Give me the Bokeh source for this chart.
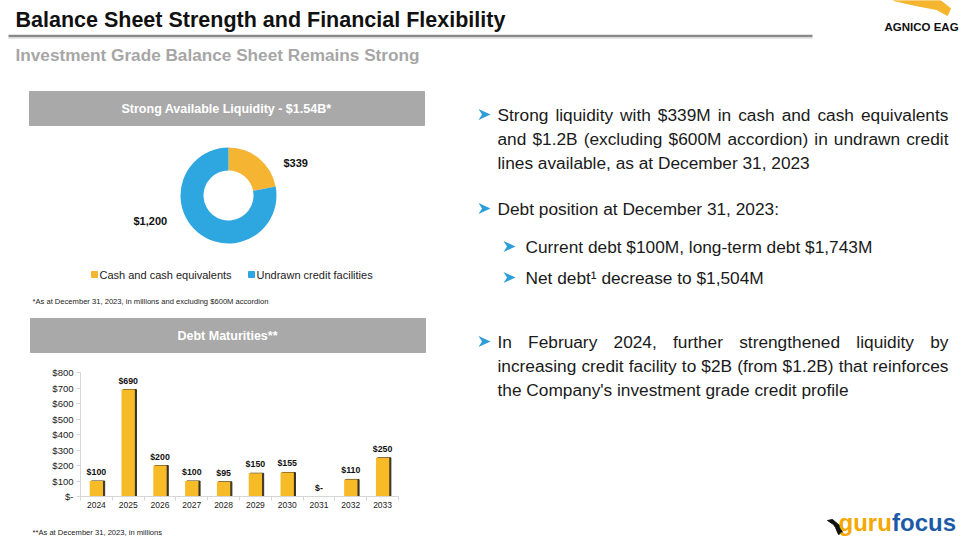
import numpy as np
from bokeh.plotting import figure
from bokeh.models import Range1d, FixedTicker, ColumnDataSource, LinearAxis
from bokeh.layouts import column, row
from bokeh.transform import dodge
from bokeh.core.properties import value
from bokeh.embed import file_html
from bokeh.resources import INLINE

# ---------------- data ----------------
liquidity_labels = ["Cash and cash equivalents", "Undrawn credit facilities"]
liquidity_values = [339, 1200]
liquidity_value_text = ["$339", "$1,200"]
liquidity_colors = ["#F5B431", "#2EA6E0"]

years = ["2024", "2025", "2026", "2027", "2028", "2029", "2030", "2031", "2032", "2033"]
maturities = [100, 690, 200, 100, 95, 150, 155, 0, 110, 250]
y_ticks = [0, 100, 200, 300, 400, 500, 600, 700, 800]
y_tick_labels = ["$-", "$100", "$200", "$300", "$400", "$500", "$600", "$700", "$800"]

FONT = "Liberation Sans"
TXT = "#1a1a1a"

# Arial / Liberation Sans advance widths (per 1000 em) for justification
AW = {' ': 278, 'a': 556, 'b': 556, 'c': 500, 'd': 556, 'e': 556, 'f': 278, 'g': 556, 'h': 556,
      'i': 222, 'j': 222, 'k': 500, 'l': 222, 'm': 833, 'n': 556, 'o': 556, 'p': 556, 'q': 556,
      'r': 333, 's': 500, 't': 278, 'u': 556, 'v': 500, 'w': 722, 'x': 500, 'y': 500, 'z': 500,
      '$': 556, ',': 278, '.': 278, '(': 333, ')': 333, '-': 333, ':': 278, "'": 191,
      'A': 667, 'B': 667, 'C': 722, 'D': 722, 'E': 667, 'F': 611, 'G': 778, 'I': 278, 'M': 833,
      'N': 722, 'S': 667, 'T': 611, 'L': 556, 'R': 722, 'P': 667}


def noalign(p):
    if hasattr(p, "frame_align"):
        p.frame_align = False
    return p


def canvas(w, h):
    p = figure(width=w, height=h, x_range=Range1d(0, w), y_range=Range1d(0, h),
               output_backend="svg", toolbar_location=None, min_border=0,
               x_axis_location=None, y_axis_location=None)
    p.grid.visible = False
    p.outline_line_color = None
    p.background_fill_color = "white"
    p.border_fill_color = "white"
    return noalign(p)


def txt(p, h, x, y, s, size, color=TXT, bold=False, align="left", font=FONT, baseline="middle"):
    p.text(x=[x], y=[h - y], text=[s], text_font=value(font), text_font_size=f"{size}px",
           text_font_style="bold" if bold else "normal", text_color=color,
           text_align=align, text_baseline=baseline)


def justify(p, h, x0, x1, y, line, size, color=TXT):
    words = line.split(" ")
    ws = [sum(AW.get(c, 556) for c in wd) * size / 1000.0 for wd in words]
    gap = (x1 - x0 - sum(ws)) / (len(words) - 1)
    xs, x = [], x0
    for wdt in ws:
        xs.append(x)
        x += wdt + gap
    p.text(x=xs, y=[h - y] * len(words), text=words, text_font=value(FONT),
           text_font_size=f"{size}px", text_color=color, text_align="left", text_baseline="middle")


# ---------------- header (ref y 0..80) ----------------
HW, HH = 960, 80
head = canvas(HW, HH)
txt(head, HH, 15, 19, "Balance Sheet Strength and Financial Flexibility", 21.5, "#111111", True)
head.line(x=[8, 812], y=[HH - 35.5, HH - 35.5], line_color="#8a8a8a", line_width=2.5)
head.line(x=[8, 812], y=[HH - 37.5, HH - 37.5], line_color="#cfcfcf", line_width=1)
txt(head, HH, 15, 54, "Investment Grade Balance Sheet Remains Strong", 17.2, "#a6a6a6", True)
head.patch(x=[893, 940, 950, 947, 936, 915], y=[HH - 0, HH - 0, HH - 8, HH - 15, HH - 9, HH - 5],
           color="#F5B52E")
txt(head, HH, 884, 26, "AGNICO EAG", 11.5, "#111111", True)

# ---------------- liquidity panel (ref y 80..310) ----------------
LW, LH = 440, 230
liq = canvas(LW, LH)
liq.quad(left=[29], right=[424], top=[LH - 11], bottom=[LH - 45], color="#a9a9a9")
txt(liq, LH, 226, 28, "Strong Available Liquidity - $1.54B*", 12.5, "white", True, align="center")

tot = float(sum(liquidity_values))
frac = np.array(liquidity_values) / tot
cum = np.cumsum(frac)
prev = np.concatenate([[0.0], cum[:-1]])
dsrc = ColumnDataSource(dict(
    start=np.pi / 2 - 2 * np.pi * cum,
    end=np.pi / 2 - 2 * np.pi * prev,
    color=liquidity_colors,
))
liq.annular_wedge(x=228, y=LH - 115, inner_radius=25, outer_radius=48, start_angle="start",
                  end_angle="end", color="color", line_color=None, source=dsrc)
txt(liq, LH, 283, 82, liquidity_value_text[0], 11, "#111111", True)
txt(liq, LH, 133, 140, liquidity_value_text[1], 11, "#111111", True)

leg_x = [91, 248]
for i in range(2):
    liq.quad(left=[leg_x[i]], right=[leg_x[i] + 6], top=[LH - 191], bottom=[LH - 197],
             color=liquidity_colors[i])
    txt(liq, LH, leg_x[i] + 8, 194, liquidity_labels[i], 11, "#222222")
txt(liq, LH, 32, 221, "*As at December 31, 2023, in millions and  excluding $600M accordion", 7.6, "#222222")

# ---------------- debt header (ref y 310..362) ----------------
DW, DH = 440, 52
dh = canvas(DW, DH)
dh.quad(left=[30], right=[425], top=[DH - 8], bottom=[DH - 42], color="#a9a9a9")
txt(dh, DH, 227, 25, "Debt Maturities**", 12.5, "white", True, align="center")

# ---------------- bar chart (ref y 362..520) ----------------
n = len(years)
centers = [i + 0.5 for i in range(n)]
bsrc = ColumnDataSource(dict(
    x=centers, year=years, value=maturities,
    label=[f"${v}" if v else "$-" for v in maturities],
))
bars = figure(width=440, height=158, x_range=Range1d(0, n), y_range=Range1d(0, 800),
              output_backend="svg", toolbar_location=None, x_axis_location=None,
              min_border_left=80, min_border_right=42, min_border_top=10, min_border_bottom=24)
noalign(bars)
bars.grid.visible = False
bars.outline_line_color = None
bars.vbar(x=dodge("x", 0.05), top="value", width=0.42, color="#3a3322", source=bsrc)
bars.vbar(x="x", top="value", width=0.42, fill_color="#F6BB26", line_color=None, source=bsrc)
bars.text(x="x", y="value", text="label", y_offset=-4, text_align="center",
          text_baseline="bottom", text_font=value(FONT), text_font_size="8.8px",
          text_font_style="bold", text_color="#111111", source=bsrc)

# x axis: year labels at centres, Excel-style ticks (minor) at category boundaries
x_axis = LinearAxis(ticker=FixedTicker(ticks=centers, minor_ticks=list(range(n + 1))),
                    major_label_overrides=dict(zip(centers, years)),
                    axis_line_color="#d6d6d6", major_tick_line_color=None,
                    major_tick_in=0, major_tick_out=4,
                    minor_tick_line_color="#d6d6d6", minor_tick_in=0, minor_tick_out=4,
                    major_label_standoff=1,
                    major_label_text_font=FONT, major_label_text_font_size="8.5px",
                    major_label_text_color="#222222")
bars.add_layout(x_axis, "below")

bars.yaxis.ticker = FixedTicker(ticks=y_ticks)
bars.yaxis.major_label_overrides = dict(zip(y_ticks, y_tick_labels))
bars.yaxis.axis_line_color = "#d6d6d6"
bars.yaxis.major_tick_line_color = "#d6d6d6"
bars.yaxis.minor_tick_line_color = None
bars.yaxis.major_label_text_font = FONT
bars.yaxis.major_label_text_color = "#222222"
bars.yaxis.major_tick_out = 4
bars.yaxis.major_tick_in = 0
bars.yaxis.major_label_standoff = 3
bars.yaxis.major_label_text_font_size = "9.5px"

FW, FH = 440, 25
foot = canvas(FW, FH)
txt(foot, FH, 32, 12, "**As at December 31, 2023,  in millions", 7.6, "#222222")

# ---------------- right text (ref x 440..960, y 80..545) ----------------
RW, RH = 520, 465
rt = canvas(RW, RH)
X0, X1, XS = 57, 508, 85
FS = 17.3
ARROW = "#2E9ED8"

arrow_pos = [(38, 34), (38, 128), (63, 166), (63, 197), (38, 261)]
rt.patches(xs=[[ax, ax + 12, ax, ax + 3.5] for ax, ay in arrow_pos],
           ys=[[RH - ay + 5.5, RH - ay, RH - ay - 5.5, RH - ay] for ax, ay in arrow_pos],
           color=ARROW, line_color=None)

justify(rt, RH, X0, X1, 34, "Strong liquidity with $339M in cash and cash equivalents", FS)
justify(rt, RH, X0, X1, 58, "and $1.2B (excluding $600M accordion) in undrawn credit", FS)
txt(rt, RH, X0, 82, "lines available, as at December 31, 2023", FS)
txt(rt, RH, X0, 128, "Debt position at December 31, 2023:", FS)
txt(rt, RH, XS, 166, "Current debt $100M, long-term debt $1,743M", FS)
txt(rt, RH, XS, 197, "Net debt\u00b9 decrease to $1,504M", FS)
justify(rt, RH, X0, X1, 261, "In February 2024, further strengthened liquidity by", FS)
justify(rt, RH, X0, X1, 285, "increasing credit facility to $2B (from $1.2B) that reinforces", FS)
txt(rt, RH, X0, 309, "the Company's investment grade credit profile", FS)

# gurufocus mark
rt.patch(x=[387, 392, 399, 402, 398, 395, 393], y=[RH - 440, RH - 439, RH - 445, RH - 452, RH - 454, RH - 447, RH - 444],
         color="#111111")
rt.text(x=[398, 451.5], y=[RH - 442, RH - 442], text=["guru", "focus"],
        text_color=["#F5A800", "#1C5AA8"], text_font=value(FONT), text_font_size="24px",
        text_font_style="bold", text_align="left", text_baseline="middle")

layout = column(head, row(column(liq, dh, bars, foot), rt))
open("out.html", "w").write(file_html(layout, INLINE))
